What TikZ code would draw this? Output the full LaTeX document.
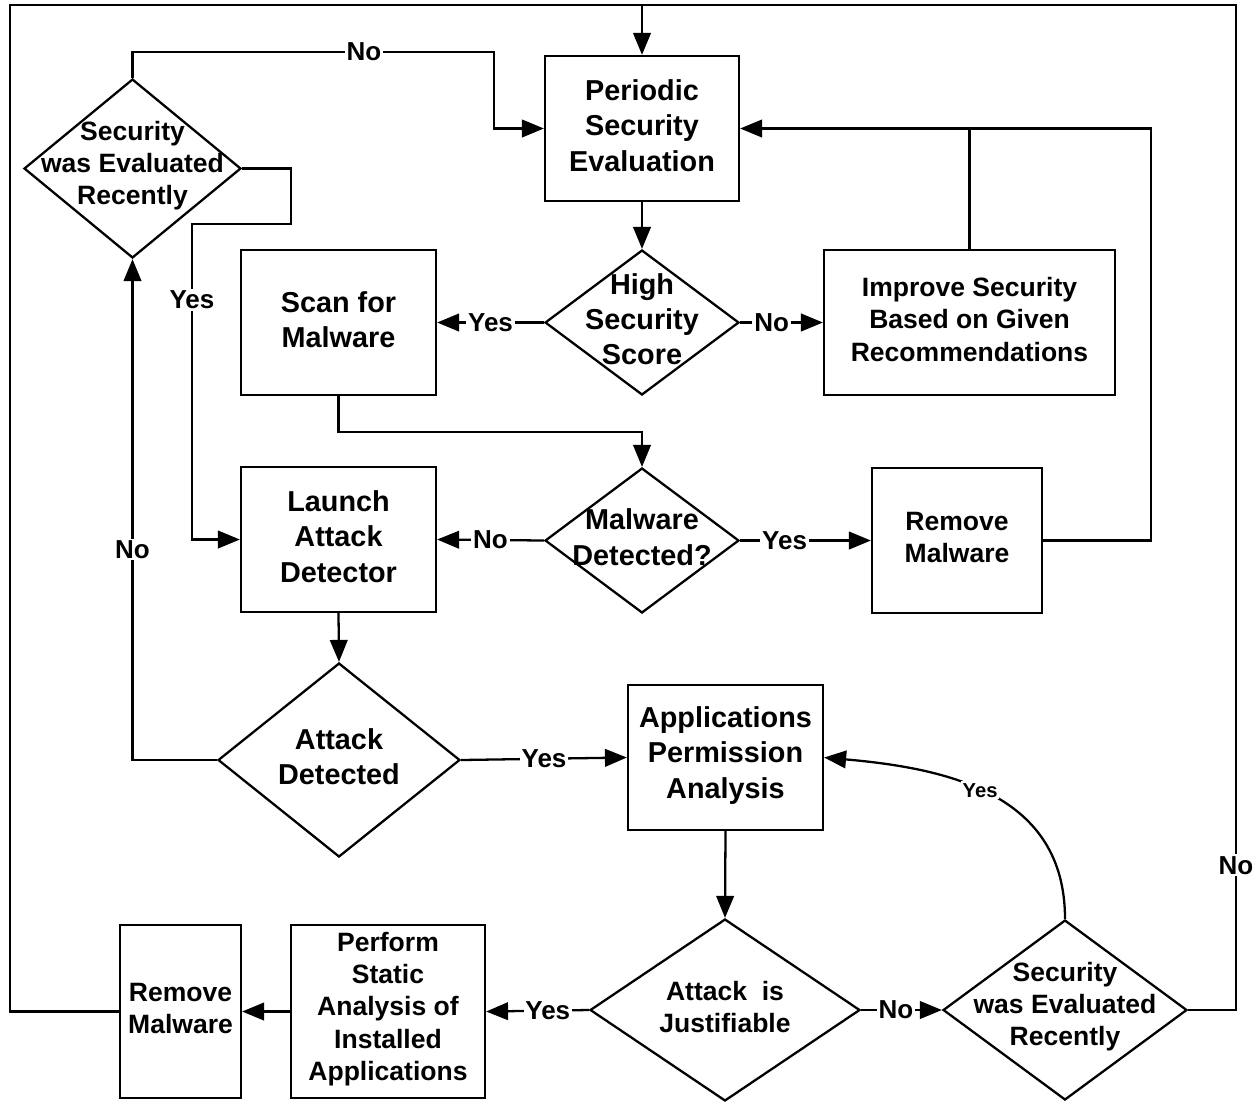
\documentclass[tikz,border=0pt]{standalone}
\usepackage{fontspec}
\setmainfont{Liberation Sans}
\usetikzlibrary{shapes.geometric,arrows.meta}

\newcommand\bigtxt{\fontsize{16.4}{20.1}\selectfont\bfseries}
\newcommand\midtxt{\fontsize{15.1}{18.3}\selectfont\bfseries}
\newcommand\lbltxt{\fontsize{14.8}{17}\selectfont\bfseries}
\newcommand\smalltxt{\fontsize{11.5}{13}\selectfont\bfseries}

\tikzset{
  block/.style={draw, line width=1.3pt, align=center, inner sep=0pt, text depth=3.6pt},
  decision/.style={draw, diamond, line width=1.3pt, inner sep=0pt},
  question/.style={align=center, yshift=1.8pt},
  flow/.style={line width=1.3pt, -{Triangle[length=12.5pt,width=10pt]}},
  wire/.style={line width=1.3pt},
  answer/.style={fill=white, inner sep=1pt, font=\lbltxt},
}

\begin{document}
\begin{tikzpicture}[x=0.02cm,y=-0.02cm]
  \useasboundingbox (0,0) rectangle (1260,1103);
  %
  % Boxes
  \node[block, minimum width=3.88cm, minimum height=2.9cm, font=\bigtxt]
    (peri) at (642,128.5) {Periodic\\Security\\Evaluation};
  \node[block, minimum width=3.9cm, minimum height=2.9cm, font=\bigtxt]
    (scan) at (338.5,322.5) {Scan for\\Malware};
  \node[block, minimum width=5.82cm, minimum height=2.9cm, font=\midtxt]
    (impr) at (969.5,322.5) {Improve Security\\Based on Given\\Recommendations};
  \node[block, minimum width=3.9cm, minimum height=2.9cm, font=\bigtxt]
    (launch) at (338.5,539.5) {Launch\\Attack\\Detector};
  \node[block, minimum width=3.4cm, minimum height=2.9cm, font=\midtxt]
    (remR) at (957,540.5) {Remove\\Malware};
  \node[block, minimum width=3.9cm, minimum height=2.9cm, font=\bigtxt, text depth=6pt]
    (app) at (725.5,757.5) {Applications\\Permission\\Analysis};
  \node[block, minimum width=3.88cm, minimum height=3.46cm, font=\midtxt, text depth=6pt]
    (perf) at (388,1011.5) {Perform\\Static\\Analysis of\\Installed\\Applications};
  \node[block, minimum width=2.42cm, minimum height=3.46cm, font=\midtxt]
    (remL) at (180.5,1011.5) {Remove\\Malware};
  %
  % Decisions
  \node[decision, minimum width=3.88cm, minimum height=2.9cm,
    label={[question,font=\bigtxt]center:{High\\Security\\Score}}]
    (high) at (642,322.5) {};
  \node[decision, minimum width=3.88cm, minimum height=2.9cm,
    label={[question,font=\bigtxt]center:{Malware\\Detected?}}]
    (maldet) at (642,540.5) {};
  \node[decision, minimum width=4.34cm, minimum height=3.58cm,
    label={[question,font=\midtxt]center:{Security\\was Evaluated\\Recently}}]
    (secT) at (132.5,168.5) {};
  \node[decision, minimum width=4.84cm, minimum height=3.88cm,
    label={[question,font=\bigtxt]center:{Attack\\Detected}}]
    (attdet) at (339,760) {};
  \node[decision, minimum width=5.4cm, minimum height=3.64cm,
    label={[question,font=\midtxt]center:{Attack\ \ is\\Justifiable}}]
    (just) at (725,1010) {};
  \node[decision, minimum width=4.88cm, minimum height=3.6cm,
    label={[question,font=\midtxt]center:{Security\\was Evaluated\\Recently}}]
    (secB) at (1065,1010) {};
  %
  % Helper points
  \coordinate (topjoin) at (642,5);
  \coordinate (frameL) at (10,5);
  \coordinate (frameR) at (1236,5);
  \coordinate (rloop) at (1151,128.5);
  \coordinate (nojog) at (494,52);
  \coordinate (yjog) at (291,224);
  %
  % Outer loop
  \draw[wire] (remL.west) -| (frameL) -- (topjoin);
  \draw[wire] (secB.east) -| node[answer,pos=0.572]{No} (frameR) -- (topjoin);
  \draw[flow] (topjoin) -- (peri.north);
  %
  % Upper part
  \draw[flow] (peri.south) -- (high.north);
  \draw[flow] (high.west) -- node[answer]{Yes} (scan.east);
  \draw[flow] (high.east) -- node[answer,pos=0.38]{No} (impr.west);
  \draw[wire] (impr.north) -- (impr.north |- peri.east);
  \draw[flow] (remR.east) -| (rloop) -- (peri.east);
  \draw[flow] (scan.south) -- ++(0,36) -| (maldet.north);
  \draw[flow] (secT.north) |- node[answer,pos=0.82]{No} (nojog) |- (peri.west);
  \draw[flow] (secT.east) -| (yjog) -- (yjog -| 192,0) |- node[answer,pos=0.12]{Yes} (launch.west);
  %
  % Middle part
  \draw[flow] (maldet.west) -- node[answer]{No} (launch.east);
  \draw[flow] (maldet.east) -- node[answer,pos=0.34]{Yes} (remR.west);
  \draw[flow] (launch.south) -- (attdet.north);
  \draw[flow] (attdet.east) -- node[answer]{Yes} (app.west);
  \draw[flow] (attdet.west) -| node[answer,pos=0.71]{No} (secT.south);
  %
  % Lower part
  \draw[flow] (app.south) -- (just.north);
  \draw[flow] (just.west) -- node[answer,pos=0.4]{Yes} (perf.east);
  \draw[flow] (just.east) -- node[answer,pos=0.43]{No} (secB.west);
  \draw[flow] (perf.west) -- (remL.east);
  \draw[flow] (secB.north) to[out=90,in=-5,looseness=1.1]
    node[answer,font=\smalltxt,pos=0.54]{Yes} (app.east);
  %
\end{tikzpicture}
\end{document}
